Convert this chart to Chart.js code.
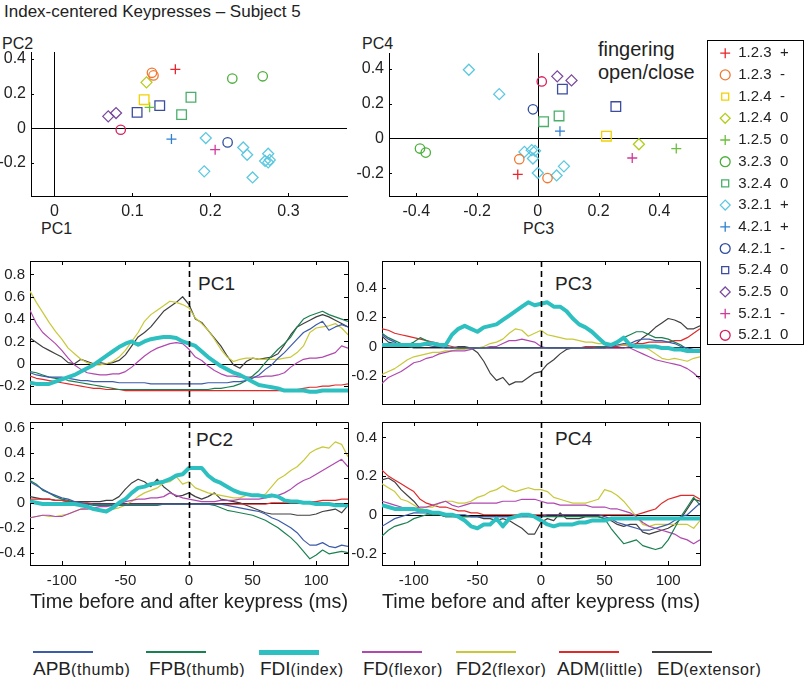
<!DOCTYPE html>
<html lang="en"><head><meta charset="utf-8"><title>Index-centered Keypresses – Subject 5</title>
<script src="https://cdn.jsdelivr.net/npm/chart.js@4/dist/chart.umd.min.js"></script>
<style>
html,body{margin:0;padding:0;background:#fff}
body{position:relative;width:805px;height:677px;overflow:hidden;font-family:"Liberation Sans",Arial,Helvetica,sans-serif;color:#222}
canvas{position:absolute;display:block}
.lbl{position:absolute;white-space:nowrap;line-height:1}
.sw{position:absolute}
</style></head><body>
<div class="lbl" style="left:4px;top:3px;font-size:17px">Index-centered Keypresses – Subject 5</div>
<div class="lbl" style="left:2px;top:36px;font-size:16px">PC2</div>
<div class="lbl" style="left:41px;top:221px;font-size:16px">PC1</div>
<div class="lbl" style="left:362px;top:36px;font-size:16px">PC4</div>
<div class="lbl" style="left:523px;top:221px;font-size:16px">PC3</div>
<div class="lbl" style="left:598px;top:39px;font-size:20px">fingering</div>
<div class="lbl" style="left:598px;top:62px;font-size:20px">open/close</div>
<div class="lbl" style="left:198px;top:274px;font-size:19px">PC1</div>
<div class="lbl" style="left:555px;top:274px;font-size:19px">PC3</div>
<div class="lbl" style="left:196px;top:430px;font-size:19px">PC2</div>
<div class="lbl" style="left:555px;top:429px;font-size:19px">PC4</div>
<canvas id="scL"></canvas>
<canvas id="scR"></canvas>
<canvas id="p1"></canvas>
<canvas id="p3"></canvas>
<canvas id="p2"></canvas>
<canvas id="p4"></canvas>
<canvas id="keyLegend"></canvas>
<div id="muscleLegend"></div>
<script>
// ---------------- DATA ----------------
// Scatter legend categories (fingering + open/close direction)
const keyFingering = ['1.2.3','1.2.3','1.2.4','1.2.4','1.2.5','3.2.3','3.2.4','3.2.1','4.2.1','4.2.1','5.2.4','5.2.5','5.2.1','5.2.1'];
const keyDirection = ['+','-','-','0','0','0','0','+','+','-','0','0','-','0'];
const keyColors = ['#e8262e','#f07830','#f2d200','#b4cc1e','#6cbf3c','#4caf3c','#4aaf6a','#5cc8e0','#2f7fcf','#2f4ea0','#3c4ca0','#7a4a9c','#d03a9a','#d8205a'];
const keyShapes = ['cross','circle','rect','rectRot','cross','circle','rect','rectRot','cross','circle','rect','rectRot','cross','circle'];

// Scatter points: group index and PC scores
const keyGroupOfPoint = [0, 1,1, 2, 3, 4, 5,5, 6,6, 7,7,7,7,7,7,7,7,7, 8, 9, 10,10, 11,11, 12, 13];
const pc1Score = [0.155, 0.125,0.127, 0.115, 0.118, 0.122, 0.228,0.267, 0.175,0.163, 0.194,0.192,0.242,0.247,0.254,0.274,0.270,0.274,0.276, 0.150, 0.222, 0.106,0.135, 0.069,0.079, 0.206, 0.085];
const pc2Score = [0.34, 0.32,0.305, 0.165, 0.265, 0.121, 0.287,0.30, 0.179,0.079, -0.056,-0.248,-0.110,-0.152,-0.283,-0.146,-0.188,-0.196,-0.182, -0.062, -0.081, 0.092,0.131, 0.069,0.088, -0.123, -0.008];
const pc3Score = [-0.066, -0.061,0.032, 0.226, 0.333, 0.456, -0.388,-0.369, 0.019,0.070, -0.227,-0.127,-0.044,-0.020,-0.009,-0.016,0.000,0.062,0.086, 0.073, -0.016, 0.081,0.257, 0.064,0.111, 0.311, 0.013];
const pc4Score = [-0.206, -0.119,-0.227, 0.013, -0.033, -0.058, -0.058,-0.081, 0.096,0.129, 0.394,0.254,-0.077,-0.067,-0.071,-0.115,-0.198,-0.212,-0.160, 0.042, 0.167, 0.283,0.183, 0.356,0.333, -0.112, 0.327];

// Muscles
const muscleNames = ['APB','FPB','FDI','FD','FD2','ADM','ED'];
const muscleSites = ['(thumb)','(thumb)','(index)','(flexor)','(flexor)','(little)','(extensor)'];
const muscleColors = ['#3c5ba8','#1b8050','#2ec0c0','#b048b0','#c8c83a','#e02a2a','#404040'];

// Time axis (ms)
const timeMs = [-125,-120,-115,-110,-105,-100,-95,-90,-85,-80,-75,-70,-65,-60,-55,-50,-45,-40,-35,-30,-25,-20,-15,-10,-5,0,5,10,15,20,25,30,35,40,45,50,55,60,65,70,75,80,85,90,95,100,105,110,115,120,125];

// PC1 traces
const pc1APB = [-0.08,-0.10,-0.11,-0.12,-0.12, -0.12,-0.13,-0.14,-0.15,-0.15, -0.16,-0.16,-0.16,-0.16,-0.17, -0.17,-0.17,-0.17,-0.17,-0.18, -0.18,-0.18,-0.18,-0.18,-0.18, -0.18, -0.18,-0.18,-0.17,-0.17,-0.17, -0.17,-0.16,-0.16,-0.15,-0.13, -0.10,-0.05,-0.01,0.05,0.10, 0.16,0.22,0.28,0.31,0.35, 0.38,0.30,0.33,0.35,0.33];
const pc1FPB = [-0.07,-0.08,-0.10,-0.12,-0.13, -0.13,-0.15,-0.16,-0.17,-0.18, -0.19,-0.20,-0.21,-0.22,-0.23, -0.23,-0.23,-0.23,-0.23,-0.23, -0.23,-0.23,-0.23,-0.23,-0.23, -0.23, -0.23,-0.23,-0.23,-0.22,-0.22, -0.21,-0.20,-0.18,-0.15,-0.11, -0.06,0.01,0.07,0.13,0.18, 0.24,0.33,0.40,0.43,0.45, 0.47,0.44,0.42,0.40,0.38];
const pc1FDI = [-0.17,-0.18,-0.18,-0.18,-0.16, -0.14,-0.12,-0.10,-0.07,-0.04, -0.01,0.03,0.07,0.11,0.15, 0.18,0.20,0.17,0.20,0.22, 0.23,0.24,0.24,0.23,0.20, 0.18, 0.16,0.11,0.06,0.02,-0.02, -0.05,-0.08,-0.10,-0.13,-0.16, -0.19,-0.20,-0.21,-0.22,-0.24, -0.24,-0.24,-0.24,-0.25,-0.25, -0.24,-0.24,-0.24,-0.24,-0.24];
const pc1FD = [0.48,0.36,0.28,0.23,0.18, 0.12,0.05,-0.01,-0.05,-0.08, -0.09,-0.10,-0.10,-0.09,-0.09, -0.07,-0.03,0.02,0.07,0.11, 0.14,0.16,0.18,0.19,0.18, 0.13, 0.06,0.03,-0.02,-0.06,-0.09, -0.11,-0.11,-0.12,-0.12,-0.12, -0.12,-0.11,-0.11,-0.10,-0.08, -0.03,0.01,0.04,0.05,0.05, 0.06,0.08,0.10,0.16,0.14];
const pc1FD2 = [0.65,0.55,0.46,0.37,0.29, 0.22,0.14,0.09,0.04,0.01, -0.01,-0.01,0.00,0.02,0.06, 0.12,0.20,0.28,0.38,0.44, 0.48,0.52,0.56,0.55,0.53, 0.50, 0.41,0.36,0.30,0.22,0.13, 0.06,0.02,0.04,0.05,0.05, 0.04,0.04,0.04,0.04,0.05, 0.06,0.10,0.16,0.28,0.32, 0.33,0.34,0.36,0.32,0.26];
const pc1ADM = [-0.11,-0.13,-0.14,-0.15,-0.16, -0.17,-0.18,-0.19,-0.20,-0.21, -0.22,-0.22,-0.23,-0.23,-0.23, -0.24,-0.24,-0.24,-0.24,-0.24, -0.24,-0.24,-0.24,-0.24,-0.24, -0.24, -0.24,-0.24,-0.24,-0.24,-0.24, -0.24,-0.24,-0.24,-0.24,-0.24, -0.24,-0.24,-0.24,-0.24,-0.24, -0.24,-0.23,-0.22,-0.21,-0.21, -0.20,-0.20,-0.19,-0.19,-0.18];
const pc1ED = [0.23,0.19,0.15,0.12,0.09, 0.06,0.01,0.00,0.04,0.02, 0.00,0.01,0.00,0.01,0.03, 0.08,0.16,0.24,0.28,0.33, 0.40,0.47,0.51,0.55,0.60, 0.53, 0.40,0.37,0.30,0.23,0.16, 0.07,-0.01,-0.04,0.02,0.05, 0.04,0.05,0.06,0.09,0.17, 0.26,0.33,0.36,0.39,0.42, 0.44,0.42,0.39,0.36,0.33];

// PC2 traces
const pc2APB = [0.17,0.14,0.11,0.08,0.06, 0.04,0.03,0.01,0.00,-0.01, -0.01,-0.01,-0.01,-0.01,-0.01, -0.01,-0.01,-0.01,-0.01,-0.01, -0.01,-0.01,-0.01,-0.01,-0.01, -0.01, -0.01,-0.01,-0.01,-0.01,-0.01, -0.02,-0.03,-0.04,-0.05,-0.06, -0.07,-0.09,-0.12,-0.14,-0.17, -0.20,-0.24,-0.30,-0.34,-0.34, -0.32,-0.35,-0.36,-0.34,-0.35];
const pc2FPB = [0.18,0.15,0.10,0.08,0.05, 0.03,0.02,0.00,-0.01,-0.01, -0.02,-0.02,-0.02,-0.02,-0.02, -0.02,-0.02,-0.02,-0.02,-0.02, -0.02,-0.01,-0.01,-0.01,-0.01, -0.01, -0.01,-0.01,-0.01,-0.02,-0.04, -0.06,-0.07,-0.08,-0.09,-0.10, -0.12,-0.14,-0.17,-0.20,-0.24, -0.28,-0.33,-0.39,-0.45,-0.42, -0.38,-0.41,-0.40,-0.39,-0.40];
const pc2FDI = [0.01,0.00,-0.01,-0.01,-0.01, -0.01,-0.01,-0.01,-0.02,-0.03, -0.05,-0.06,-0.07,-0.04,0.00, 0.03,0.08,0.12,0.13,0.15, 0.16,0.17,0.19,0.22,0.23, 0.28, 0.28,0.28,0.22,0.18,0.16, 0.13,0.10,0.08,0.07,0.06, 0.06,0.05,0.06,0.05,0.02, 0.01,0.01,0.00,0.00,-0.01, -0.01,-0.01,-0.02,-0.02,-0.02];
const pc2FD = [-0.12,-0.11,-0.10,-0.10,-0.11, -0.11,-0.09,-0.07,-0.05,-0.05, -0.04,-0.03,-0.03,-0.02,-0.01, 0.01,0.02,0.03,0.03,0.04, 0.04,0.05,0.08,0.06,0.04, 0.03, 0.02,0.01,0.01,0.01,0.02, 0.02,0.02,0.03,0.03,0.03, 0.03,0.04,0.05,0.06,0.08, 0.11,0.15,0.18,0.20,0.23, 0.26,0.29,0.32,0.35,0.29];
const pc2FD2 = [-0.12,-0.11,-0.10,-0.11,-0.11, -0.10,-0.09,-0.07,-0.05,-0.04, -0.05,-0.06,-0.06,-0.05,-0.04, -0.02,0.01,0.05,0.08,0.10, 0.12,0.16,0.17,0.21,0.15, 0.17, 0.12,0.10,0.08,0.07,0.06, 0.05,0.04,0.04,0.06,0.06, 0.05,0.07,0.13,0.19,0.22, 0.26,0.29,0.34,0.40,0.43, 0.45,0.44,0.49,0.47,0.37];
const pc2ADM = [0.03,0.03,0.03,0.03,0.02, 0.02,0.01,0.01,0.00,0.00, -0.01,-0.01,-0.01,-0.01,-0.01, -0.01,-0.01,-0.01,-0.01,-0.01, -0.01,-0.01,-0.01,-0.01,-0.01, -0.01, -0.01,-0.01,-0.01,-0.01,-0.01, -0.01,-0.01,-0.01,-0.01,-0.01, -0.01,-0.01,0.00,0.00,0.00, 0.00,0.00,0.01,0.01,0.01, 0.02,0.02,0.02,0.03,0.03];
const pc2ED = [0.05,0.04,0.03,0.03,0.02, 0.02,0.01,0.01,0.01,0.01, 0.01,0.01,0.02,0.02,0.05, 0.11,0.16,0.19,0.17,0.13, 0.19,0.13,0.09,0.05,0.06, 0.08, 0.05,0.03,0.05,0.08,0.03, 0.02,0.01,0.00,-0.02,-0.04, -0.06,-0.08,-0.09,-0.09,-0.09, -0.09,-0.10,-0.10,-0.10,-0.09, -0.07,-0.06,-0.05,-0.08,-0.02];

// PC3 traces
const pc3APB = [0.08,0.05,0.03,0.00,0.01, 0.02,0.01,0.01,0.00,0.00, -0.01,-0.01,-0.01,-0.01,-0.01, -0.01,-0.01,-0.01,-0.01,-0.01, -0.01,-0.01,-0.01,-0.01,-0.01, -0.01, -0.01,-0.01,-0.01,-0.01,-0.01, -0.01,-0.01,-0.01,-0.01,-0.01, 0.00,0.01,0.02,0.02,0.04, 0.05,0.05,0.04,0.04,0.03, 0.02,0.00,-0.01,-0.02,-0.02];
const pc3FPB = [0.09,0.06,0.04,0.02,0.01, 0.03,0.06,0.04,0.02,0.01, 0.00,-0.01,-0.01,-0.01,-0.01, -0.01,-0.01,-0.01,-0.01,-0.01, -0.01,-0.01,-0.01,-0.01,-0.01, -0.01, -0.01,-0.01,-0.01,-0.01,-0.01, -0.01,-0.01,-0.01,0.00,0.00, 0.01,0.03,0.06,0.08,0.10, 0.10,0.08,0.06,0.06,0.05, 0.03,0.01,-0.02,-0.03,-0.03];
const pc3FDI = [0.01,0.01,0.01,0.01,0.01, 0.01,0.01,0.02,0.02,0.01, 0.01,0.08,0.12,0.14,0.12, 0.10,0.13,0.14,0.15,0.18, 0.21,0.24,0.27,0.30,0.28, 0.29, 0.30,0.27,0.27,0.24,0.19, 0.15,0.13,0.10,0.06,0.02, 0.01,0.03,0.06,0.01,0.00, 0.00,0.00,0.00,-0.01,-0.01, -0.02,-0.02,-0.03,-0.03,-0.03];
const pc3FD = [-0.25,-0.21,-0.19,-0.17,-0.14, -0.11,-0.10,-0.08,-0.07,-0.05, -0.04,-0.03,-0.03,-0.03,-0.02, -0.01,-0.01,0.00,0.00,0.02, 0.04,0.04,0.05,0.04,0.03, 0.00, -0.01,-0.01,-0.01,-0.01,-0.01, -0.01,-0.01,-0.01,-0.01,-0.01, -0.01,-0.01,-0.01,-0.01,-0.03, -0.05,-0.07,-0.09,-0.10,-0.11, -0.12,-0.13,-0.15,-0.18,-0.22];
const pc3FD2 = [-0.19,-0.17,-0.15,-0.12,-0.09, -0.07,-0.06,-0.05,-0.04,-0.04, -0.03,-0.03,-0.02,-0.02,-0.01, -0.01,0.00,0.02,0.03,0.05, 0.09,0.12,0.11,0.07,0.09, 0.11, 0.08,0.07,0.06,0.05,0.05, 0.04,0.03,0.03,0.02,0.02, 0.02,0.01,0.01,0.01,0.00, 0.00,-0.02,-0.05,-0.08,-0.09, -0.08,-0.09,-0.10,-0.08,-0.07];
const pc3ADM = [0.12,0.11,0.09,0.08,0.07, 0.06,0.05,0.04,0.03,0.02, 0.01,0.00,-0.01,-0.01,-0.01, -0.01,-0.01,-0.01,-0.01,-0.01, -0.01,-0.01,-0.01,-0.01,-0.01, -0.01, -0.01,-0.01,-0.01,-0.01,-0.01, -0.01,0.00,0.00,0.00,0.00, 0.00,0.00,0.01,0.01,0.02, 0.02,0.03,0.03,0.03,0.03, 0.04,0.04,0.06,0.09,0.12];
const pc3ED = [0.07,0.03,0.02,0.01,0.00, -0.01,-0.01,-0.01,-0.01,-0.01, -0.01,-0.01,0.00,0.00,-0.01, -0.04,-0.10,-0.18,-0.23,-0.21, -0.26,-0.24,-0.24,-0.21,-0.18, -0.17, -0.12,-0.09,-0.05,-0.02,-0.01, -0.01,-0.01,-0.01,-0.01,-0.01, -0.01,-0.01,-0.01,0.00,0.02, 0.06,0.09,0.13,0.16,0.19, 0.18,0.16,0.12,0.12,0.14];

// PC4 traces
const pc4APB = [-0.06,-0.04,-0.02,-0.01,0.00, 0.01,0.01,0.01,0.01,0.01, 0.00,0.00,0.00,0.00,-0.01, -0.01,-0.01,-0.01,-0.01,-0.01, -0.01,-0.01,-0.01,-0.01,-0.01, -0.01, 0.00,0.00,0.00,0.00,0.00, 0.00,0.00,0.00,0.00,-0.01, -0.02,-0.04,-0.05,-0.06,-0.07, -0.08,-0.08,-0.07,-0.06,-0.05, -0.03,-0.01,0.00,0.03,0.06];
const pc4FPB = [-0.11,-0.08,-0.06,-0.05,-0.04, -0.02,-0.01,0.00,0.00,0.00, -0.01,-0.01,-0.01,-0.01,-0.01, -0.01,-0.01,-0.01,-0.01,-0.01, -0.01,-0.01,-0.01,-0.01,-0.01, -0.01, -0.01,-0.01,-0.01,-0.01,-0.01, -0.01,-0.01,-0.01,-0.01,-0.02, -0.07,-0.11,-0.15,-0.14,-0.13, -0.16,-0.17,-0.18,-0.17,-0.13, -0.07,-0.01,0.04,0.09,0.05];
const pc4FDI = [0.05,0.04,0.03,0.03,0.03, 0.03,0.02,0.02,0.01,0.01, 0.00,0.00,-0.01,-0.03,-0.06, -0.07,-0.05,-0.05,-0.02,-0.06, -0.02,-0.01,0.00,0.00,-0.01, -0.03, -0.05,-0.06,-0.05,-0.05,-0.05, -0.04,-0.04,-0.03,-0.03,-0.03, -0.02,-0.02,-0.02,-0.02,-0.02, -0.02,-0.02,-0.02,-0.02,-0.02, -0.02,-0.02,-0.02,-0.02,-0.02];
const pc4FD = [0.07,0.06,0.05,0.04,0.03, 0.03,0.04,0.04,0.05,0.06, 0.07,0.05,0.04,0.05,0.06, 0.06,0.06,0.06,0.06,0.07, 0.07,0.07,0.08,0.08,0.08, 0.07, 0.06,0.06,0.05,0.05,0.05, 0.05,0.05,0.04,0.04,0.04, 0.03,0.03,0.02,0.01,-0.01, -0.04,-0.06,-0.07,-0.08,-0.09, -0.10,-0.12,-0.13,-0.15,-0.13];
const pc4FD2 = [0.16,0.14,0.12,0.08,0.07, 0.05,0.03,0.04,0.04,0.06, 0.07,0.07,0.06,0.06,0.07, 0.09,0.10,0.12,0.13,0.15, 0.13,0.12,0.13,0.14,0.13, 0.13, 0.12,0.09,0.08,0.07,0.06, 0.06,0.06,0.07,0.08,0.13, 0.12,0.10,0.07,0.03,-0.01, -0.05,-0.06,-0.05,-0.05,-0.05, -0.05,-0.05,-0.05,-0.07,-0.03];
const pc4ADM = [0.23,0.20,0.18,0.16,0.14, 0.12,0.08,0.06,0.05,0.04, 0.04,0.03,0.02,0.02,0.01, 0.01,0.00,0.00,0.00,0.00, 0.00,0.00,0.00,0.00,0.00, 0.00, 0.00,0.00,0.00,0.00,0.00, 0.00,0.00,0.00,0.00,0.00, 0.00,0.00,0.00,0.00,0.00, 0.01,0.02,0.03,0.06,0.08, 0.09,0.10,0.10,0.10,0.08];
const pc4ED = [0.18,0.19,0.17,0.13,0.10, 0.07,0.03,0.01,0.00,0.00, -0.01,-0.01,-0.01,-0.01,-0.01, -0.01,-0.02,-0.02,-0.03,-0.02, -0.03,-0.05,-0.07,-0.10,-0.10, -0.04, -0.02,-0.03,0.01,-0.02,-0.02, -0.02,-0.01,-0.01,-0.01,-0.02, -0.03,-0.05,-0.06,-0.05,-0.05, -0.09,-0.10,-0.09,-0.08,-0.07, -0.05,-0.02,0.03,0.08,0.07];

// Tick values
const timeTicks = [-100,-50,0,50,100];
const sc1Ticks = [0,0.1,0.2,0.3];
const sc2Ticks = [-0.2,0,0.2,0.4];
const sc3Ticks = [-0.4,-0.2,0,0.2,0.4];
const sc4Ticks = [-0.2,0,0.2,0.4];
const pc1Ticks = [-0.2,0,0.2,0.4,0.6,0.8];
const pc2Ticks = [-0.4,-0.2,0,0.2,0.4,0.6];
const pc3Ticks = [-0.2,0,0.2,0.4];
const pc4Ticks = [-0.2,0,0.2,0.4];

// ---------------- RENDERING ----------------
const FONT = '"Liberation Sans", Arial, Helvetica, sans-serif';
const TXT = '#222';
Chart.defaults.font.family = FONT;
const fmt = v => String(Math.round(v * 10) / 10);

function place(id, rect) {
  const c = document.getElementById(id);
  c.width = rect.w; c.height = rect.h;
  c.style.left = rect.x + 'px'; c.style.top = rect.y + 'px';
  c.style.width = rect.w + 'px'; c.style.height = rect.h + 'px';
  return c;
}

function zeroPad(s) { s.paddingLeft = 0; s.paddingRight = 0; s.paddingTop = 0; s.paddingBottom = 0; }

function makeScales(g, o) {
  const yW = g.area.l - g.rect.x;
  const xH = g.rect.y + g.rect.h - g.area.b;
  const ts = o.tickSize || 15;
  return {
    x: {
      type: 'linear', position: 'bottom', min: o.xMin, max: o.xMax,
      afterBuildTicks: s => { s.ticks = o.xTicks.map(v => ({value: v})); },
      afterFit: s => { s.height = xH; zeroPad(s); },
      grid: {display: false, drawTicks: false},
      border: {display: true, color: '#000', width: 1},
      ticks: {display: o.xLabels !== false, padding: o.xPad, autoSkip: false, maxRotation: 0, minRotation: 0,
              color: TXT, font: {family: FONT, size: ts}, callback: v => fmt(v)},
      title: o.xTitle ? {display: true, text: o.xTitle, color: TXT, font: {family: FONT, size: 20}, padding: {top: 0, bottom: 2}} : {display: false}
    },
    y: {
      type: 'linear', position: 'left', min: o.yMin, max: o.yMax,
      afterBuildTicks: s => { s.ticks = o.yTicks.map(v => ({value: v})); },
      afterFit: s => { s.width = yW; zeroPad(s); },
      grid: {display: false, drawTicks: false},
      border: {display: true, color: '#000', width: 1},
      ticks: {padding: o.yPad, autoSkip: false, color: TXT, font: {family: FONT, size: ts}, callback: v => fmt(v)}
    }
  };
}

function baseOptions(g, scales) {
  return {
    responsive: false, animation: false, devicePixelRatio: 1, events: [],
    layout: {autoPadding: false, padding: {top: g.area.t - g.rect.y, right: g.rect.x + g.rect.w - g.area.r, left: 0, bottom: 0}},
    plugins: {legend: {display: false}, tooltip: {enabled: false}, title: {display: false}},
    scales
  };
}

const px = v => Math.round(v) + 0.5;

const scatterDeco = {
  id: 'scatterDeco',
  beforeDatasetsDraw(chart) {
    const {ctx, chartArea: a, scales: {x, y}} = chart;
    ctx.save(); ctx.strokeStyle = '#000'; ctx.lineWidth = 1;
    const y0 = px(y.getPixelForValue(0)), x0 = px(x.getPixelForValue(0));
    ctx.beginPath();
    ctx.moveTo(a.left, y0); ctx.lineTo(a.right, y0);
    ctx.moveTo(x0, a.top); ctx.lineTo(x0, a.bottom);
    ctx.stroke();
    ctx.beginPath();
    x.ticks.forEach(t => { const p = px(x.getPixelForValue(t.value)); ctx.moveTo(p, a.bottom); ctx.lineTo(p, a.bottom - 3); });
    y.ticks.forEach(t => { const p = px(y.getPixelForValue(t.value)); ctx.moveTo(a.left, p); ctx.lineTo(a.left + 3, p); });
    ctx.stroke();
    ctx.restore();
  }
};

const panelDeco = {
  id: 'panelDeco',
  beforeDatasetsDraw(chart) {
    const {ctx, chartArea: a, scales: {y}} = chart;
    ctx.save(); ctx.strokeStyle = '#000'; ctx.lineWidth = 1;
    const y0 = px(y.getPixelForValue(0));
    ctx.beginPath(); ctx.moveTo(a.left, y0); ctx.lineTo(a.right, y0); ctx.stroke();
    ctx.restore();
  },
  afterDatasetsDraw(chart) {
    const {ctx, chartArea: a, scales: {x, y}} = chart;
    ctx.save(); ctx.strokeStyle = '#000';
    const x0 = px(x.getPixelForValue(0));
    ctx.lineWidth = 1.6; ctx.setLineDash([6, 4]);
    ctx.beginPath(); ctx.moveTo(x0, a.top); ctx.lineTo(x0, a.bottom); ctx.stroke();
    ctx.setLineDash([]); ctx.lineWidth = 1;
    const T = Math.round(a.top) + 0.5, R = Math.round(a.right) + 0.5;
    ctx.beginPath(); ctx.moveTo(a.left, T); ctx.lineTo(R, T); ctx.lineTo(R, a.bottom); ctx.stroke();
    const tl = 4;
    ctx.beginPath();
    x.ticks.forEach(t => { const p = px(x.getPixelForValue(t.value)); ctx.moveTo(p, a.top); ctx.lineTo(p, a.top + tl); ctx.moveTo(p, a.bottom); ctx.lineTo(p, a.bottom - tl); });
    y.ticks.forEach(t => { const p = px(y.getPixelForValue(t.value)); ctx.moveTo(a.left, p); ctx.lineTo(a.left + tl, p); ctx.moveTo(a.right, p); ctx.lineTo(a.right - tl, p); });
    ctx.stroke();
    ctx.restore();
  }
};

const markerRadius = {cross: 5, circle: 4.7, rect: 6.8, rectRot: 5.5};

function scatterDatasets(xs, ys) {
  return keyFingering.map((f, gI) => ({
    label: f + '  ' + keyDirection[gI],
    data: keyGroupOfPoint.map((g, i) => g === gI ? {x: xs[i], y: ys[i]} : null).filter(p => p),
    showLine: false,
    pointStyle: keyShapes[gI],
    pointRadius: markerRadius[keyShapes[gI]],
    pointBorderColor: keyColors[gI],
    borderColor: keyColors[gI],
    pointBackgroundColor: 'rgba(0,0,0,0)',
    backgroundColor: 'rgba(0,0,0,0)',
    pointBorderWidth: 1.3,
    clip: false
  }));
}

function scatterChart(id, g, xs, ys, o) {
  place(id, g.rect);
  return new Chart(document.getElementById(id), {
    type: 'scatter',
    data: {datasets: scatterDatasets(xs, ys)},
    options: baseOptions(g, makeScales(g, o)),
    plugins: [scatterDeco]
  });
}

function panelChart(id, g, traces, o) {
  place(id, g.rect);
  const datasets = traces.map((arr, m) => ({
    label: muscleNames[m],
    data: timeMs.map((t, i) => ({x: t, y: arr[i]})),
    borderColor: muscleColors[m],
    borderWidth: muscleNames[m] === 'FDI' ? 4 : 1.2,
    pointRadius: 0,
    tension: 0,
    fill: false,
    borderJoinStyle: 'round',
    order: muscleNames[m] === 'FDI' ? 0 : 1 + m
  }));
  return new Chart(document.getElementById(id), {
    type: 'line',
    data: {datasets},
    options: baseOptions(g, makeScales(g, o)),
    plugins: [panelDeco]
  });
}

// Scatter plots
scatterChart('scL', {rect: {x: 0, y: 40, w: 356, h: 200}, area: {l: 31, t: 52, r: 347, b: 196}},
  pc1Score, pc2Score, {xMin: -0.03, xMax: 0.375, yMin: -0.39, yMax: 0.44, xTicks: sc1Ticks, yTicks: sc2Ticks, xPad: 6, yPad: 5, tickSize: 16});
scatterChart('scR', {rect: {x: 355, y: 40, w: 370, h: 200}, area: {l: 389, t: 53, r: 720, b: 196}},
  pc3Score, pc4Score, {xMin: -0.49, xMax: 0.6, yMin: -0.33, yMax: 0.49, xTicks: sc3Ticks, yTicks: sc4Ticks, xPad: 6, yPad: 5, tickSize: 16});

// Time-course panels
const TITLE = 'Time before and after keypress (ms)';
panelChart('p1', {rect: {x: 0, y: 255, w: 356, h: 156}, area: {l: 30, t: 261, r: 348, b: 404}},
  [pc1APB, pc1FPB, pc1FDI, pc1FD, pc1FD2, pc1ADM, pc1ED],
  {xMin: -125, xMax: 125, yMin: -0.36, yMax: 0.92, xTicks: timeTicks, yTicks: pc1Ticks, xLabels: false, xPad: 7, yPad: 5});
panelChart('p2', {rect: {x: 0, y: 416, w: 356, h: 200}, area: {l: 30, t: 422, r: 348, b: 565}},
  [pc2APB, pc2FPB, pc2FDI, pc2FD, pc2FD2, pc2ADM, pc2ED],
  {xMin: -125, xMax: 125, yMin: -0.5, yMax: 0.65, xTicks: timeTicks, yTicks: pc2Ticks, xPad: 7, yPad: 5, xTitle: TITLE});
panelChart('p3', {rect: {x: 352, y: 255, w: 356, h: 156}, area: {l: 382, t: 261, r: 700, b: 404}},
  [pc3APB, pc3FPB, pc3FDI, pc3FD, pc3FD2, pc3ADM, pc3ED],
  {xMin: -125, xMax: 125, yMin: -0.39, yMax: 0.58, xTicks: timeTicks, yTicks: pc3Ticks, xLabels: false, xPad: 7, yPad: 5});
panelChart('p4', {rect: {x: 352, y: 416, w: 356, h: 200}, area: {l: 382, t: 422, r: 700, b: 565}},
  [pc4APB, pc4FPB, pc4FDI, pc4FD, pc4FD2, pc4ADM, pc4ED],
  {xMin: -125, xMax: 125, yMin: -0.26, yMax: 0.48, xTicks: timeTicks, yTicks: pc4Ticks, xPad: 7, yPad: 5, xTitle: TITLE});

// Marker legend (boxed, right side); canvas is wider than the page so the legend gets enough room
place('keyLegend', {x: 707, y: 40, w: 220, h: 322});
new Chart(document.getElementById('keyLegend'), {
  type: 'scatter',
  data: {datasets: []},
  options: {
    responsive: false, animation: false, devicePixelRatio: 1, events: [],
    layout: {padding: {left: 6, top: -1, right: 0, bottom: 0}},
    scales: {x: {display: false}, y: {display: false}},
    plugins: {
      tooltip: {enabled: false},
      legend: {
        display: true, position: 'left', align: 'start',
        labels: {
          usePointStyle: true, boxWidth: 11, boxHeight: 7, padding: 6.7, color: TXT,
          font: {family: FONT, size: 15},
          generateLabels: () => keyFingering.map((f, i) => ({
            text: f + '  ' + keyDirection[i], fillStyle: 'rgba(0,0,0,0)', strokeStyle: keyColors[i],
            lineWidth: 1.3, pointStyle: keyShapes[i], hidden: false, fontColor: TXT, datasetIndex: i
          }))
        }
      }
    }
  },
  plugins: [{
    id: 'legendBox',
    beforeDraw(chart) {
      const c = chart.ctx; c.save();
      c.fillStyle = '#fff'; c.fillRect(0, 0, 97, 305);
      c.strokeStyle = '#000'; c.lineWidth = 1; c.strokeRect(0.5, 0.5, 96, 304);
      c.restore();
    }
  }]
});

// Muscle legend (bottom)
const legendLineX = [33, 146, 259, 362, 456, 559, 652];
const legendTextX = [33, 149, 260, 363, 456, 557, 657];
const lg = document.getElementById('muscleLegend');
muscleNames.forEach((n, i) => {
  const th = n === 'FDI' ? 5 : 2;
  const sw = document.createElement('div');
  sw.className = 'sw';
  sw.style.cssText = `left:${legendLineX[i]}px;top:${652 - th / 2}px;width:60px;height:${th}px;background:${muscleColors[i]}`;
  lg.appendChild(sw);
  const tx = document.createElement('div');
  tx.className = 'lbl';
  tx.style.cssText = `left:${legendTextX[i]}px;top:659px;font-size:19px`;
  tx.innerHTML = `${n}<span style="font-size:16px;letter-spacing:0.6px">${muscleSites[i]}</span>`;
  lg.appendChild(tx);
});
</script>
</body></html>
